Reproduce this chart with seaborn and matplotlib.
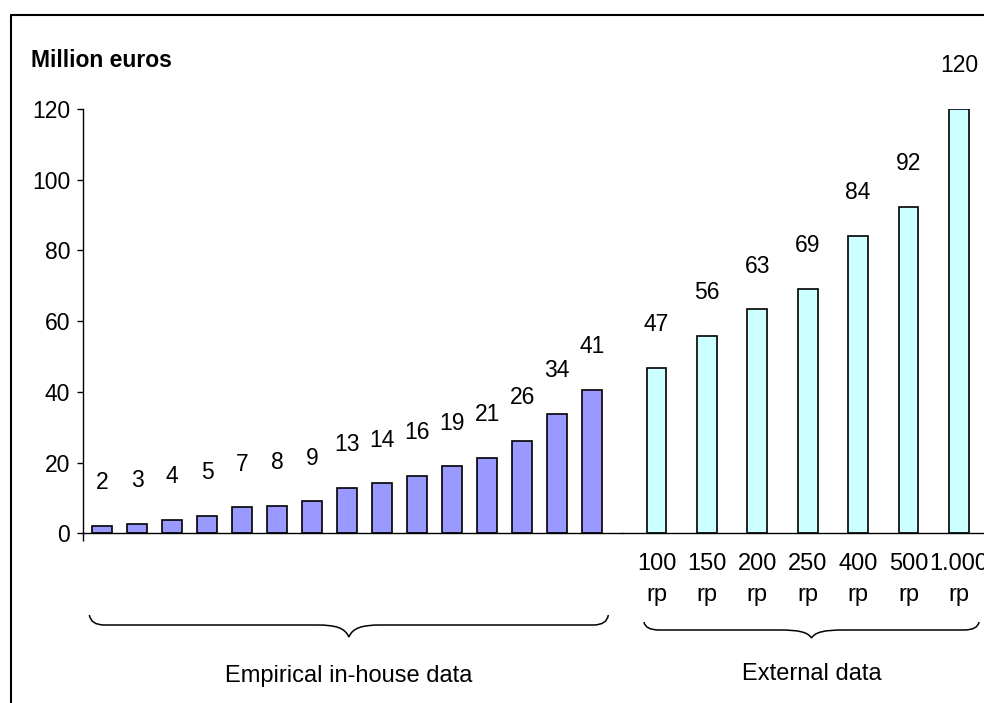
import matplotlib
matplotlib.use("Agg")
import matplotlib.pyplot as plt
from matplotlib.path import Path
from matplotlib.patches import PathPatch
from matplotlib.lines import Line2D
import seaborn as sns

# ==============================
# Data
# ==============================
emp_ids = list(range(1, 16))
emp_values = [2.1, 2.7, 3.9, 4.9, 7.3, 7.8, 9.0, 12.7, 14.1, 16.1,
              18.9, 21.2, 26.1, 33.8, 40.6]

ext_labels = ["100\nrp", "150\nrp", "200\nrp", "250\nrp",
              "400\nrp", "500\nrp", "1.000\nrp"]
ext_values = [46.7, 55.9, 63.3, 69.2, 84.0, 92.4, 120.0]

y_ticks = [0, 20, 40, 60, 80, 100, 120]
unit_label = "Million euros"
group_labels = ["Empirical in-house data", "External data"]

# ==============================
# Style
# ==============================
sns.set_style("white")
plt.rcParams["font.family"] = ["Liberation Sans", "DejaVu Sans"]
plt.rcParams["text.color"] = "black"
plt.rcParams["xtick.color"] = "black"
plt.rcParams["ytick.color"] = "black"

W, H = 984, 703
fig = plt.figure(figsize=(W / 100, H / 100), dpi=100)

base_px, top_px, split_px, yaxis_px = 533.3, 109.0, 622.0, 83.3
ax1 = fig.add_axes([yaxis_px / W, 1 - base_px / H,
                    (split_px - yaxis_px) / W, (base_px - top_px) / H])
ax2 = fig.add_axes([split_px / W, 1 - base_px / H,
                    1 - split_px / W, (base_px - top_px) / H])

sns.barplot(x=emp_ids, y=emp_values, ax=ax1, color="#9999FF", saturation=1,
            width=0.57, edgecolor="black", linewidth=1.2)
sns.barplot(x=ext_labels, y=ext_values, ax=ax2, color="#CCFFFF", saturation=1,
            width=0.39, edgecolor="black", linewidth=1.2)

for ax in (ax1, ax2):
    ax.set_ylim(0, 120)
    ax.set_xlabel("")
    ax.set_ylabel("")
    ax.patch.set_alpha(0)
    for s in ("top", "right", "left"):
        ax.spines[s].set_visible(False)
    ax.spines["bottom"].set_color("black")
    ax.spines["bottom"].set_linewidth(1)
    ax.bar_label(ax.containers[0], fmt="%.0f", padding=23, fontsize=16.5,
                 color="black")

# left axes: y axis only
left_lim = -0.543
ax1.set_xlim(left_lim, 14.85)
ax1.spines["left"].set_visible(True)
ax1.spines["left"].set_color("black")
ax1.spines["left"].set_linewidth(1)
ax1.set_yticks(y_ticks)
ax1.tick_params(axis="y", left=True, direction="out", length=4.5, width=1,
                pad=5, labelsize=16.5)
ax1.set_xticks([left_lim])
ax1.set_xticklabels([""])
ax1.tick_params(axis="x", bottom=True, direction="out", length=6, width=1)

# right axes: category labels
ax2.set_xlim(-0.685, 6.498)
ax2.set_yticks([])
ax2.tick_params(axis="x", length=0, pad=14, labelsize=17)
for lab in ax2.get_xticklabels():
    lab.set_linespacing(1.55)


# ==============================
# Braces and group labels
# ==============================
def draw_brace(ax, x0, x1, y_tip, y_flat, y_dip, end_w=15, mid_w=32):
    left = ax.transData.transform((x0, 0))[0]
    right = ax.transData.transform((x1, 0))[0]
    mid = (left + right) / 2
    d = y_dip - y_flat
    pts = [
        (left, y_tip),
        (left + 0.1 * end_w, y_flat), (left + end_w, y_flat),
        (mid - mid_w, y_flat),
        (mid - 0.4 * mid_w, y_flat), (mid - 0.12 * mid_w, y_flat + 0.25 * d), (mid, y_dip),
        (mid + 0.12 * mid_w, y_flat + 0.25 * d), (mid + 0.4 * mid_w, y_flat), (mid + mid_w, y_flat),
        (right - end_w, y_flat),
        (right - 0.1 * end_w, y_flat), (right, y_tip),
    ]
    codes = [Path.MOVETO, Path.CURVE3, Path.CURVE3, Path.LINETO,
             Path.CURVE4, Path.CURVE4, Path.CURVE4,
             Path.CURVE4, Path.CURVE4, Path.CURVE4,
             Path.LINETO, Path.CURVE3, Path.CURVE3]
    verts = [(x / W, 1 - y / H) for x, y in pts]
    fig.add_artist(PathPatch(Path(verts, codes), transform=fig.transFigure,
                             fill=False, edgecolor="black", linewidth=1.1))
    return mid


mid1 = draw_brace(ax1, -0.37, len(emp_values) - 1 + 0.46, 615, 625, 637)
mid2 = draw_brace(ax2, -0.25, len(ext_values) - 1 + 0.4, 622, 630, 638)
fig.text(mid1 / W, 1 - 682 / H, group_labels[0], ha="center", va="baseline", fontsize=17)
fig.text(mid2 / W, 1 - 680 / H, group_labels[1], ha="center", va="baseline", fontsize=17)

# unit label
fig.text(31 / W, 1 - 66.7 / H, unit_label, ha="left", va="baseline",
         fontsize=16.5, fontweight="bold")

# outer frame (top and left edges visible)
fig.add_artist(Line2D([11 / W, 1], [1 - 15 / H, 1 - 15 / H], color="black",
                      linewidth=1.5, transform=fig.transFigure))
fig.add_artist(Line2D([11 / W, 11 / W], [1 - 15 / H, 0], color="black",
                      linewidth=1.5, transform=fig.transFigure))

fig.savefig("out.png", dpi=100)
